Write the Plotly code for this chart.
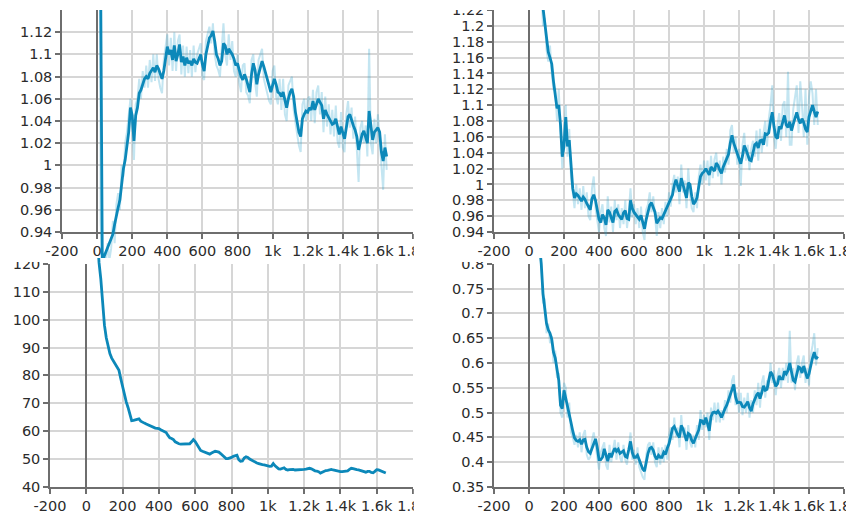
import plotly.graph_objects as go

# ---------------- data ----------------
STEPS = list(range(0, 1660, 10))

X_TICKS = [-200, 0, 200, 400, 600, 800, 1000, 1200, 1400, 1600, 1800]
X_TICK_TEXT = ["-200", "0", "200", "400", "600", "800", "1k", "1.2k", "1.4k", "1.6k", "1.8k"]

TL_Y_TICKS = [0.94, 0.96, 0.98, 1.0, 1.02, 1.04, 1.06, 1.08, 1.1, 1.12]
TL_Y_TEXT = ["0.94", "0.96", "0.98", "1", "1.02", "1.04", "1.06", "1.08", "1.1", "1.12"]

TR_Y_TICKS = [0.94, 0.96, 0.98, 1.0, 1.02, 1.04, 1.06, 1.08, 1.1, 1.12, 1.14, 1.16, 1.18, 1.2, 1.22]
TR_Y_TEXT = ["0.94", "0.96", "0.98", "1", "1.02", "1.04", "1.06", "1.08", "1.1", "1.12",
             "1.14", "1.16", "1.18", "1.2", "1.22"]

BL_Y_TICKS = [40, 50, 60, 70, 80, 90, 100, 110, 120]
BL_Y_TEXT = ["40", "50", "60", "70", "80", "90", "100", "110", "120"]

BR_Y_TICKS = [0.35, 0.4, 0.45, 0.5, 0.55, 0.6, 0.65, 0.7, 0.75, 0.8]
BR_Y_TEXT = ["0.35", "0.4", "0.45", "0.5", "0.55", "0.6", "0.65", "0.7", "0.75", "0.8"]

TL_SMOOTH = [
    3.0, 2.0, 1.17, 0.905, 0.918, 0.922, 0.926, 0.93, 0.934, 0.938,
    0.947, 0.956, 0.962, 0.969, 0.985, 0.997, 1.005, 1.018, 1.03, 1.052,
    1.045, 1.022, 1.045, 1.052, 1.065, 1.068, 1.074, 1.078, 1.08, 1.078,
    1.083, 1.086, 1.088, 1.084, 1.09, 1.087, 1.082, 1.078, 1.085, 1.095,
    1.107, 1.1, 1.104, 1.095, 1.108, 1.094, 1.1, 1.109, 1.093, 1.098,
    1.09, 1.097, 1.092, 1.094, 1.09, 1.096, 1.093, 1.092, 1.097, 1.1,
    1.091, 1.085, 1.1, 1.108, 1.115, 1.117, 1.121, 1.112, 1.1, 1.096,
    1.09, 1.094, 1.11, 1.108, 1.1, 1.105, 1.103, 1.1, 1.096, 1.09,
    1.092, 1.086, 1.08, 1.077, 1.082, 1.078, 1.072, 1.066, 1.082, 1.092,
    1.086, 1.073, 1.082, 1.088, 1.094, 1.089, 1.083, 1.076, 1.07, 1.066,
    1.072, 1.078, 1.073, 1.066, 1.065, 1.062, 1.066, 1.058, 1.052, 1.06,
    1.066, 1.069, 1.062, 1.048, 1.04, 1.03, 1.026, 1.042, 1.046, 1.049,
    1.048, 1.052, 1.05, 1.058, 1.05, 1.055, 1.06, 1.057, 1.054, 1.042,
    1.05, 1.046, 1.043, 1.04, 1.037, 1.038, 1.042, 1.035, 1.028, 1.035,
    1.028, 1.024, 1.034, 1.044, 1.046, 1.04, 1.036, 1.032, 1.026, 1.014,
    1.022, 1.028, 1.031, 1.024, 1.02, 1.049, 1.034, 1.023, 1.03, 1.032,
    1.034, 1.03, 1.012, 1.004, 1.016, 1.008,
]
TL_RAW = [
    3.2, 1.6, 0.95, 0.9, 0.915, 0.91, 0.93, 0.915, 0.925, 0.95,
    0.93, 0.965, 0.975, 0.96, 1.0, 0.99, 1.02, 1.03, 1.045, 1.06,
    1.035, 1.005, 1.055, 1.06, 1.078, 1.06, 1.085, 1.07, 1.09, 1.07,
    1.095, 1.075, 1.1, 1.076, 1.1, 1.078, 1.07, 1.065, 1.095, 1.105,
    1.118, 1.09, 1.115, 1.085, 1.12, 1.085, 1.112, 1.118, 1.082, 1.108,
    1.08, 1.107, 1.083, 1.104, 1.08, 1.108, 1.084, 1.1, 1.105, 1.11,
    1.08, 1.077, 1.112, 1.118, 1.125, 1.11, 1.128, 1.1, 1.09, 1.086,
    1.08, 1.105, 1.128, 1.1, 1.09, 1.118, 1.095, 1.112, 1.085, 1.08,
    1.1, 1.075, 1.066, 1.09, 1.092, 1.066, 1.063, 1.056, 1.095, 1.1,
    1.075, 1.062, 1.095, 1.1, 1.105, 1.078, 1.072, 1.065, 1.058, 1.055,
    1.085, 1.09, 1.062, 1.055, 1.078, 1.05, 1.078, 1.046, 1.04, 1.072,
    1.076, 1.08, 1.05, 1.036, 1.028, 1.018, 1.012, 1.055, 1.06, 1.04,
    1.06, 1.062, 1.04, 1.068, 1.038, 1.066, 1.072, 1.046, 1.066, 1.03,
    1.062, 1.035, 1.055, 1.028, 1.05, 1.026, 1.054, 1.022, 1.016, 1.048,
    1.016, 1.012, 1.046, 1.058, 1.034, 1.052, 1.024, 1.044, 1.014, 0.985,
    1.034, 1.04, 1.02, 1.036, 1.008, 1.105, 1.02, 1.01, 1.042, 1.02,
    1.046, 1.018, 1.0, 0.978, 1.028, 0.996,
]

TR_SMOOTH = [
    1.5, 1.45, 1.4, 1.36, 1.32, 1.29, 1.26, 1.24, 1.22, 1.205,
    1.182, 1.167, 1.16, 1.152, 1.13, 1.11, 1.096, 1.1, 1.075, 1.035,
    1.048, 1.085, 1.048, 1.056, 1.03, 0.995, 0.983, 0.988, 0.986, 0.983,
    0.979, 0.984, 0.981, 0.976, 0.972, 0.968, 0.982, 0.987, 0.98, 0.966,
    0.956, 0.952, 0.962, 0.958, 0.949, 0.968, 0.965, 0.958, 0.952, 0.966,
    0.968, 0.962, 0.959, 0.956, 0.964, 0.967, 0.957, 0.956, 0.98, 0.97,
    0.965, 0.962, 0.959, 0.956, 0.961, 0.952, 0.944, 0.956, 0.965, 0.974,
    0.977, 0.972, 0.965, 0.951, 0.954, 0.958, 0.957, 0.962, 0.966, 0.972,
    0.977, 0.982, 0.987, 0.999, 1.006, 0.998, 0.991, 1.008, 1.0, 0.993,
    0.983, 1.002, 1.0, 0.985, 0.975, 0.978, 0.983, 0.997, 1.01, 1.014,
    1.016, 1.02, 1.016, 1.012, 1.022, 1.02, 1.017, 1.027, 1.024, 1.018,
    1.014, 1.022, 1.027, 1.031, 1.038, 1.052, 1.062, 1.052, 1.045, 1.039,
    1.033, 1.026, 1.036, 1.049, 1.044, 1.037, 1.031, 1.03, 1.04, 1.05,
    1.052, 1.046, 1.055, 1.056, 1.05, 1.064, 1.063, 1.065, 1.08, 1.091,
    1.073, 1.06, 1.058, 1.073, 1.07, 1.078, 1.087, 1.075, 1.072, 1.079,
    1.068, 1.076, 1.084, 1.091, 1.082, 1.077, 1.083, 1.078, 1.07, 1.066,
    1.085, 1.094, 1.1, 1.092, 1.085, 1.092,
]
TR_RAW = [
    1.6, 1.5, 1.42, 1.38, 1.3, 1.3, 1.24, 1.25, 1.2, 1.21,
    1.17, 1.155, 1.175, 1.14, 1.12, 1.12, 1.08, 1.12, 1.06, 1.02,
    1.065, 1.1, 1.035, 1.07, 1.01, 0.985, 0.97, 1.0, 0.975, 0.995,
    0.968, 0.998, 0.97, 0.99, 0.96, 0.955, 0.995, 1.01, 0.97, 0.955,
    0.94, 0.965, 0.975, 0.945, 0.935, 0.985, 0.952, 0.972, 0.94, 0.98,
    0.955, 0.975, 0.945, 0.97, 0.95, 0.98, 0.945, 0.965, 0.995, 0.958,
    0.975, 0.95, 0.97, 0.945, 0.972, 0.94, 0.93, 0.968, 0.975, 0.99,
    0.965, 0.985, 0.955, 0.935, 0.965, 0.945, 0.97, 0.95, 0.978, 0.96,
    0.99, 0.972, 1.0, 1.012, 0.99, 1.01, 0.975, 1.025, 0.99, 1.005,
    0.97, 1.02, 0.988, 0.97, 0.965, 0.99, 0.97, 1.01, 1.025, 1.0,
    1.03, 1.005, 1.03, 0.998, 1.036, 1.008, 1.032, 1.04, 1.01, 1.03,
    1.0, 1.035, 1.015, 1.045, 1.025, 1.068, 1.075, 1.04, 1.06, 1.025,
    1.045, 0.998, 1.05, 1.065, 1.03, 1.05, 1.018, 1.045, 1.055, 1.035,
    1.068, 1.03, 1.07, 1.04, 1.065, 1.08, 1.048, 1.082, 1.1, 1.125,
    1.06, 1.045, 1.075, 1.09, 1.055, 1.1, 1.105, 1.06, 1.142, 1.05,
    1.05, 1.095, 1.11, 1.125, 1.065, 1.13, 1.1, 1.06, 1.12, 1.05,
    1.11, 1.13, 1.115, 1.075, 1.12, 1.075,
]

BL_SMOOTH = [
    400, 330, 270, 220, 180, 152, 133, 120.5, 114.5, 104.5,
    98, 93.5, 90.3, 87.8, 86.2, 85, 84, 83.1, 81.8, 78.8,
    75.8, 73, 70.5, 68.5, 66, 63.8, 63.9, 64, 64.1, 64.4,
    63.6, 63.1, 62.9, 62.6, 62.3, 61.9, 61.6, 61.2, 61.1, 61,
    60.9, 60.5, 60.1, 59.8, 59.5, 58.5, 57.6, 57.4, 57, 56.2,
    55.7, 55.5, 55.4, 55.4, 55.4, 55.5, 55.4, 55.5, 56.2, 57,
    56.3, 55.3, 54.2, 53.1, 52.8, 52.6, 52.4, 52.2, 51.8, 52.2,
    52.6, 52.8, 52.7, 52.5, 52, 51.3, 50.6, 50.2, 50.2, 50.3,
    50.6, 51, 51.2, 51.4, 49.8, 49.2, 49.3, 50.4, 50.8, 50.6,
    50, 49.6, 49.3, 49, 48.6, 48.4, 48.1, 48, 47.9, 47.7,
    47.5, 47.4, 47.5, 48.4, 47.6, 47.1, 46.5, 46.4, 46.8, 46.9,
    46.3, 46.1, 46.2, 46.3, 46.3, 46.1, 46.1, 46.2, 46.3, 46.3,
    46.3, 46.4, 46.5, 46.7, 46.5, 46, 45.8, 45.7, 45.5, 45,
    45.4, 45.8, 45.9, 46, 46.2, 46.3, 46.1, 45.9, 45.8, 45.7,
    45.5, 45.5, 45.6, 45.6, 45.8, 46.3, 46.7, 46.6, 46.3, 46.2,
    46.1, 45.9, 45.7, 45.4, 45.3, 45.6, 45.6, 45.2, 45.1, 45.6,
    46.2, 46.1, 45.8, 45.4, 45.2, 45,
]

BR_SMOOTH = [
    1.3, 1.2, 1.1, 1.02, 0.95, 0.89, 0.84, 0.8, 0.74, 0.712,
    0.68, 0.667, 0.66, 0.648, 0.622, 0.61, 0.588, 0.565, 0.515, 0.508,
    0.545, 0.53, 0.512, 0.5, 0.48, 0.463, 0.449, 0.444, 0.442, 0.445,
    0.436, 0.445, 0.446, 0.43, 0.421, 0.418, 0.428, 0.44, 0.447, 0.43,
    0.405, 0.405, 0.41, 0.427, 0.412, 0.402, 0.418, 0.41, 0.42, 0.428,
    0.422, 0.426, 0.418, 0.42, 0.423, 0.412, 0.41, 0.425, 0.442, 0.42,
    0.41, 0.41, 0.414, 0.405, 0.396, 0.386, 0.382, 0.4, 0.418, 0.428,
    0.43, 0.424, 0.412, 0.406, 0.414, 0.41, 0.41, 0.42, 0.416, 0.428,
    0.437, 0.452, 0.468, 0.472, 0.462, 0.455, 0.45, 0.474, 0.467, 0.455,
    0.443, 0.458, 0.455, 0.444, 0.438, 0.448, 0.456, 0.465, 0.484, 0.483,
    0.476, 0.49, 0.478, 0.463, 0.492, 0.5, 0.501, 0.499, 0.503, 0.498,
    0.49, 0.5, 0.508, 0.515, 0.525, 0.538, 0.548, 0.557, 0.532, 0.52,
    0.521, 0.52, 0.512, 0.511, 0.516, 0.522, 0.51, 0.503, 0.518, 0.527,
    0.535, 0.54, 0.528, 0.54, 0.554, 0.545, 0.547, 0.565, 0.582, 0.577,
    0.562, 0.553, 0.558, 0.574, 0.568, 0.568, 0.583, 0.578, 0.585, 0.6,
    0.582, 0.565, 0.562, 0.58, 0.592, 0.59, 0.58, 0.594, 0.58, 0.569,
    0.578, 0.596, 0.61, 0.622, 0.608, 0.613,
]
BR_RAW = [
    1.4, 1.25, 1.12, 1.05, 0.96, 0.9, 0.83, 0.8, 0.72, 0.73,
    0.66, 0.68, 0.64, 0.655, 0.6, 0.625, 0.57, 0.58, 0.5, 0.49,
    0.56, 0.55, 0.49, 0.52, 0.46, 0.45, 0.435, 0.455, 0.43, 0.46,
    0.42, 0.455, 0.465, 0.415, 0.405, 0.41, 0.445, 0.46, 0.43, 0.41,
    0.385, 0.42, 0.43, 0.44, 0.395, 0.385, 0.435, 0.4, 0.425, 0.445,
    0.405, 0.44, 0.41, 0.4, 0.435, 0.405, 0.395, 0.435, 0.46, 0.405,
    0.425, 0.395, 0.43, 0.39, 0.38, 0.37, 0.365, 0.415, 0.435, 0.44,
    0.415, 0.44, 0.4, 0.39, 0.43, 0.395, 0.43, 0.4, 0.435, 0.405,
    0.455, 0.47, 0.445, 0.49, 0.45, 0.47, 0.43, 0.495, 0.45, 0.47,
    0.425, 0.475, 0.44, 0.43, 0.455, 0.43, 0.475, 0.445, 0.505, 0.465,
    0.495, 0.47, 0.5, 0.445, 0.51, 0.485, 0.52, 0.48, 0.52, 0.48,
    0.505, 0.485, 0.525, 0.5, 0.545, 0.52, 0.565, 0.575, 0.515, 0.54,
    0.5, 0.54, 0.495, 0.53, 0.5, 0.54, 0.49, 0.525, 0.5, 0.545,
    0.515, 0.56, 0.51, 0.56, 0.575, 0.53, 0.565, 0.55, 0.6, 0.56,
    0.585, 0.535, 0.575, 0.59, 0.55, 0.59, 0.565, 0.6, 0.56, 0.665,
    0.56, 0.59, 0.545, 0.6, 0.615, 0.57, 0.6, 0.615, 0.56, 0.59,
    0.555, 0.615, 0.635, 0.66, 0.595, 0.63,
]

for name, arr in [("TL_SMOOTH", TL_SMOOTH), ("TL_RAW", TL_RAW), ("TR_SMOOTH", TR_SMOOTH),
                  ("TR_RAW", TR_RAW), ("BL_SMOOTH", BL_SMOOTH), ("BR_SMOOTH", BR_SMOOTH),
                  ("BR_RAW", BR_RAW)]:
    assert len(arr) == len(STEPS), (name, len(arr))

# ---------------- style ----------------
W, H = 846, 520
LINE = "#0c88b9"
RAW = "rgba(40,160,205,0.28)"
GRID = "#d6d6d6"
AXIS = "#6e6e6e"
FONT = dict(family="DejaVu Sans", size=14.5, color="#2b2b2b")

# panel geometry in pixels: plot x-span, visible y-span, trace clip y-span
panels = [
    dict(x=(62, 413), y=(10, 232), clip=(10, 258), yr=(0.94, 1.14),
         ticks=TL_Y_TICKS, text=TL_Y_TEXT, smooth=TL_SMOOTH, raw=TL_RAW),
    dict(x=(494, 844), y=(10, 232), clip=(10, 258), yr=(0.94, 1.22),
         ticks=TR_Y_TICKS, text=TR_Y_TEXT, smooth=TR_SMOOTH, raw=TR_RAW),
    dict(x=(50, 413), y=(263.8, 487), clip=(258, 487), yr=(40, 120),
         ticks=BL_Y_TICKS, text=BL_Y_TEXT, smooth=BL_SMOOTH, raw=None),
    dict(x=(494, 844), y=(263.8, 487), clip=(258, 487), yr=(0.35, 0.8),
         ticks=BR_Y_TICKS, text=BR_Y_TEXT, smooth=BR_SMOOTH, raw=BR_RAW),
]


def xdom(a, b):
    return [a / W, b / W]


def ydom(top, bot):
    return [1 - bot / H, 1 - top / H]


fig = go.Figure()
layout = {}
for i, p in enumerate(panels):
    n = i + 1          # visible axes
    m = i + 5          # trace axes (clip region)
    xs = "" if n == 1 else str(n)
    lo, hi = p["yr"]
    top, bot = p["y"]
    ctop, cbot = p["clip"]
    per = (hi - lo) / (bot - top)
    ext = [lo - (cbot - bot) * per, hi + (top - ctop) * per]

    layout["xaxis" + xs] = dict(
        domain=xdom(*p["x"]), range=[-200, 1800], anchor="y" + xs,
        tickmode="array", tickvals=X_TICKS, ticktext=X_TICK_TEXT,
        showgrid=True, gridcolor=GRID, gridwidth=1.5,
        zeroline=True, zerolinecolor=AXIS, zerolinewidth=2,
        showline=True, linecolor=AXIS, linewidth=1.5,
        ticks="outside", ticklen=5, tickcolor=AXIS, tickwidth=1.5,
        tickfont=FONT, automargin=False, fixedrange=True, visible=True,
        ticklabeloverflow="allow",
    )
    layout["yaxis" + xs] = dict(
        domain=ydom(top, bot), range=[lo, hi], anchor="x" + xs,
        tickmode="array", tickvals=p["ticks"], ticktext=p["text"],
        showgrid=True, gridcolor=GRID, gridwidth=1.5, zeroline=False,
        showline=True, linecolor=AXIS, linewidth=1.5,
        ticks="outside", ticklen=5, tickcolor=AXIS, tickwidth=1.5,
        tickfont=FONT, automargin=False, fixedrange=True, visible=True,
        ticklabeloverflow="allow",
    )
    layout["xaxis%d" % m] = dict(domain=xdom(*p["x"]), range=[-200, 1800],
                                 anchor="y%d" % m, visible=False, fixedrange=True)
    layout["yaxis%d" % m] = dict(domain=ydom(ctop, cbot), range=ext,
                                 anchor="x%d" % m, visible=False, fixedrange=True)

    # empty trace so the visible axes form a real subplot
    fig.add_trace(go.Scatter(x=[None], y=[None], mode="lines",
                             xaxis="x" + xs, yaxis="y" + xs,
                             hoverinfo="skip", showlegend=False))

for i, p in enumerate(panels):
    m = i + 5
    if p["raw"] is not None:
        fig.add_trace(go.Scatter(x=STEPS, y=p["raw"], mode="lines",
                                 line=dict(color=RAW, width=2),
                                 xaxis="x%d" % m, yaxis="y%d" % m,
                                 hoverinfo="skip", showlegend=False))
    fig.add_trace(go.Scatter(x=STEPS, y=p["smooth"], mode="lines",
                             line=dict(color=LINE, width=2.8),
                             xaxis="x%d" % m, yaxis="y%d" % m,
                             showlegend=False))

# white masks emulating the cropped tiles of the original screenshot
shapes = [
    dict(type="rect", xref="paper", yref="paper", x0=0, x1=1,
         y0=1 - 10 / H, y1=1, fillcolor="white", line=dict(width=0), layer="above"),
    dict(type="rect", xref="paper", yref="paper", x0=0, x1=47 / W,
         y0=1 - 262 / H, y1=1 - 257.5 / H, fillcolor="white", line=dict(width=0), layer="above"),
    dict(type="rect", xref="paper", yref="paper", x0=423 / W, x1=490 / W,
         y0=1 - 262 / H, y1=1 - 257.5 / H, fillcolor="white", line=dict(width=0), layer="above"),
    dict(type="rect", xref="paper", yref="paper", x0=413.8 / W, x1=442 / W,
         y0=0, y1=1, fillcolor="white", line=dict(width=0), layer="above"),
]

fig.update_layout(
    width=W, height=H, autosize=False,
    margin=dict(l=0, r=0, t=0, b=0, pad=0),
    paper_bgcolor="white", plot_bgcolor="rgba(0,0,0,0)",
    showlegend=False, shapes=shapes, font=FONT,
    **layout,
)

fig.write_html("out.html", config={"displayModeBar": False},
               post_script="document.body.style.margin='0';document.body.style.overflow='hidden';")
